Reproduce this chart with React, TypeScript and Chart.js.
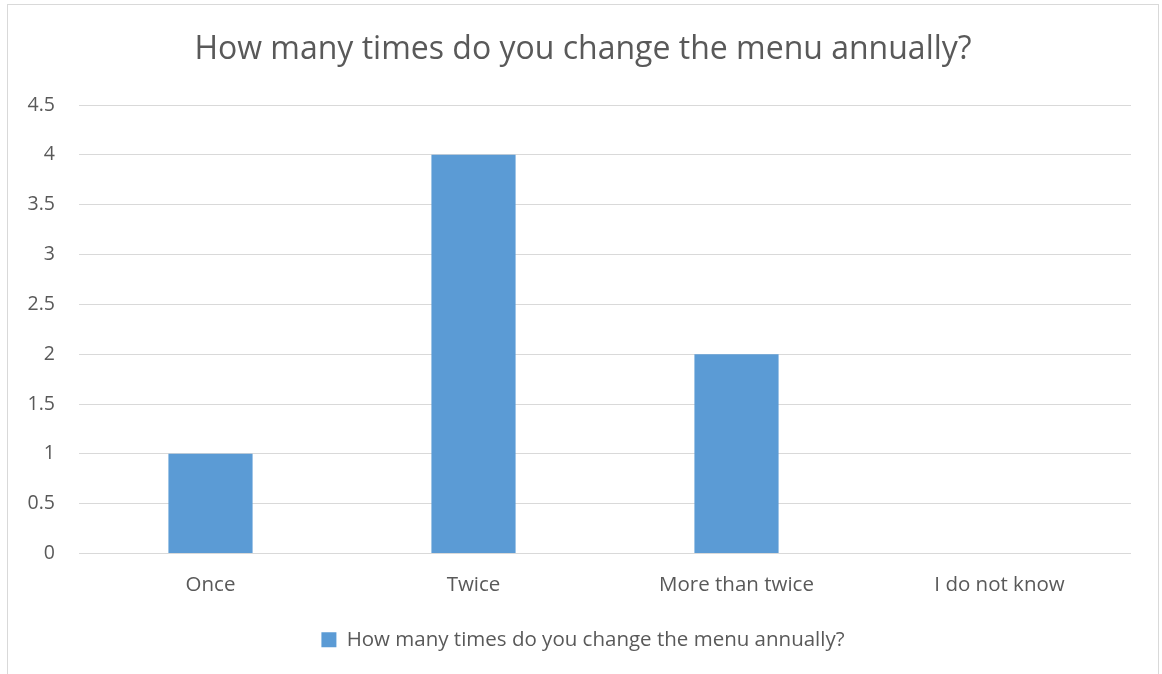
import React, { useEffect, useRef } from "react";
import { Chart, registerables } from "chart.js";

Chart.register(...registerables);

const categories = ["Once", "Twice", "More than twice", "I do not know"];
const seriesName = "How many times do you change the menu annually?";
const seriesValues = [1, 4, 2, 0];
const chartTitle = "How many times do you change the menu annually?";

const FONT = "'Open Sans', 'DejaVu Sans', sans-serif";
const TEXT = "#595959";

export default function App() {
  const ref = useRef<HTMLCanvasElement | null>(null);
  useEffect(() => {
    if (!ref.current) return;
    const chart = new Chart(ref.current, {
      type: "bar",
      data: {
        labels: categories,
        datasets: [
          {
            label: seriesName,
            data: seriesValues,
            backgroundColor: "#5B9BD5",
            borderWidth: 0,
            categoryPercentage: 1,
            barPercentage: 0.32,
          },
        ],
      },
      options: {
        responsive: false,
        animation: false,
        devicePixelRatio: 1,
        layout: { padding: { left: 0, right: 0, top: 0, bottom: 14 } },
        plugins: {
          title: {
            display: true,
            text: chartTitle,
            color: TEXT,
            font: { family: FONT, size: 32, weight: "normal" },
            padding: { top: 26, bottom: 35.6 },
          },
          legend: {
            position: "bottom",
            labels: {
              color: TEXT,
              font: { family: FONT, size: 20.5 },
              boxWidth: 15,
              boxHeight: 15,
              padding: 10,
            },
          },
          tooltip: { enabled: false },
        },
        scales: {
          x: {
            grid: { display: false, drawTicks: false },
            border: { display: false },
            ticks: {
              color: TEXT,
              font: { family: FONT, size: 20.5 },
              padding: 19,
            },
            afterFit: (s: any) => {
              s.height = 66;
            },
          },
          y: {
            min: 0,
            max: 4.5,
            grid: { color: "#d9d9d9", lineWidth: 1, drawTicks: false },
            border: { display: false },
            ticks: {
              stepSize: 0.5,
              color: TEXT,
              font: { family: FONT, size: 19.5 },
              padding: 24,
              callback: (v: any) => String(Number(v)),
            },
            afterFit: (s: any) => {
              s.width = 71;
            },
          },
          spacer: {
            type: "linear",
            position: "right",
            display: true,
            min: 0,
            max: 4.5,
            grid: { display: false, drawTicks: false },
            border: { display: false },
            ticks: { display: false },
            afterFit: (s: any) => {
              s.width = 27;
            },
          },
        },
      } as any,
    });
    return () => chart.destroy();
  }, []);
  return (
    <div
      style={{
        position: "absolute",
        left: 7,
        top: 4,
        width: 1150,
        height: 674,
        border: "1px solid #d9d9d9",
        background: "#fff",
      }}
    >
      <canvas ref={ref} width={1150} height={669} style={{ display: "block" }} />
    </div>
  );
}
